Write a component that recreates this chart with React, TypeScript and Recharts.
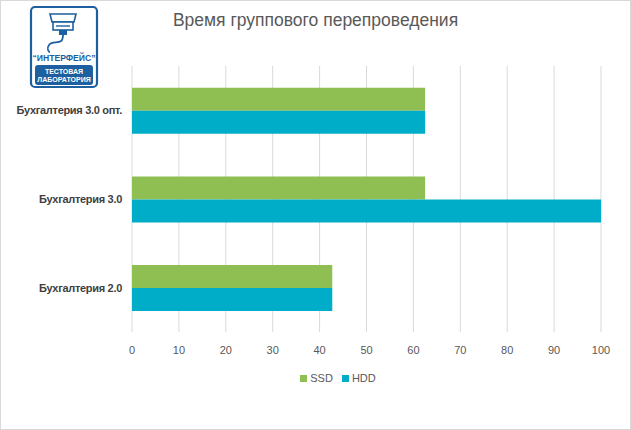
import type { FC, JSX } from 'react'
import { BarChart, Bar, XAxis, YAxis, CartesianGrid } from 'recharts'

const categories = ['Бухгалтерия 3.0 опт.', 'Бухгалтерия 3.0', 'Бухгалтерия 2.0']
const ssdValues = [62.5, 62.5, 42.7]
const hddValues = [62.5, 100, 42.7]
const xTicks = [0, 10, 20, 30, 40, 50, 60, 70, 80, 90, 100]

const SSD_COLOR = '#8fbe52'
const HDD_COLOR = '#00adc8'
const FONT = 'Liberation Sans, Arial, sans-serif'

const data = categories.map((name, i) => ({ name, SSD: ssdValues[i], HDD: hddValues[i] }))

const Logo: FC = (): JSX.Element => (
  <svg width={70} height={84} viewBox="0 0 70 84" style={{ position: 'absolute', left: 29, top: 5 }}>
    <rect x={2} y={2} width={66} height={80} rx={4} fill="#fff" stroke="#1d5f9f" strokeWidth={2.2} />
    {/* connector */}
    <path d="M21 9 h26 l-2 8 h-22 z" fill="#fff" stroke="#1d5f9f" strokeWidth={1.6} />
    <rect x={24} y={17} width={20} height={8} fill="#fff" stroke="#1d5f9f" strokeWidth={1.6} />
    <line x1={27} y1={21} x2={41} y2={21} stroke="#1d5f9f" strokeWidth={1.4} />
    <path d="M30 25 h8 v5 h-8 z" fill="#1d5f9f" />
    <path d="M34 30 C34 42 24 34 20 40 C17 44 20 47 21 47" fill="none" stroke="#1d5f9f" strokeWidth={1.8} />
    <text x={35} y={56} textAnchor="middle" fontFamily={FONT} fontWeight="bold" fontSize={8.6} fill="#1d5f9f">“ИНТЕРФЕЙС”</text>
    <rect x={6} y={60} width={58} height={20} rx={3} fill="#1d5f9f" />
    <text x={35} y={68.5} textAnchor="middle" fontFamily={FONT} fontWeight="bold" fontSize={7} fill="#fff">ТЕСТОВАЯ</text>
    <text x={35} y={77} textAnchor="middle" fontFamily={FONT} fontWeight="bold" fontSize={7} fill="#fff">ЛАБОРАТОРИЯ</text>
  </svg>
)

const CategoryTick = (props: any): JSX.Element => {
  const { x, y, payload } = props
  return (
    <text x={x} y={y} dy={4} textAnchor="end" fill="#404040" fontSize={11} fontWeight="bold" letterSpacing={-0.3} fontFamily={FONT}>
      {payload.value}
    </text>
  )
}

const ChartLegend: FC = (): JSX.Element => (
  <div style={{ position: 'absolute', left: 48, top: 372, width: 580, display: 'flex', justifyContent: 'center', alignItems: 'center', fontSize: 11, color: '#595959', fontFamily: FONT }}>
    <span style={{ width: 7, height: 7, background: SSD_COLOR, display: 'inline-block', marginRight: 3 }} />
    <span style={{ marginRight: 9 }}>SSD</span>
    <span style={{ width: 7, height: 7, background: HDD_COLOR, display: 'inline-block', marginRight: 3 }} />
    <span>HDD</span>
  </div>
)

export default function App(): JSX.Element {
  return (
    <div style={{ position: 'absolute', left: 0, top: 0, width: 631, height: 430, background: '#fff' }}>
      <div style={{ position: 'absolute', left: 0, top: 0, width: 629, height: 428, border: '1px solid #d9d9d9' }} />
      <Logo />
      <div style={{ position: 'absolute', left: 0, top: 10, width: 631, textAlign: 'center', fontFamily: FONT, fontSize: 17.5, color: '#595959' }}>
        Время группового перепроведения
      </div>
      <BarChart
        width={631}
        height={430}
        data={data}
        layout="vertical"
        margin={{ top: 66, right: 30, left: 0, bottom: 68 }}
        barCategoryGap="24.5%"
        barGap={0}
        style={{ position: 'absolute', left: 0, top: 0 }}
      >
        <CartesianGrid horizontal={false} stroke="#d9d9d9" />
        <XAxis
          type="number"
          domain={[0, 100]}
          ticks={xTicks}
          axisLine={false}
          tickLine={false}
          tick={{ fill: '#595959', fontSize: 11, fontFamily: FONT }}
          tickMargin={8}
        />
        <YAxis
          type="category"
          dataKey="name"
          width={132}
          axisLine={false}
          tickLine={false}
          tick={<CategoryTick />}
          tickMargin={4}
        />
        <Bar dataKey="SSD" fill={SSD_COLOR} isAnimationActive={false} />
        <Bar dataKey="HDD" fill={HDD_COLOR} isAnimationActive={false} />
      </BarChart>
      <ChartLegend />
    </div>
  )
}
